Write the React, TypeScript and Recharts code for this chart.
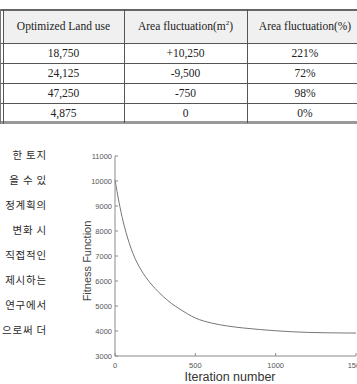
import React from 'react';
import { LineChart, Line, XAxis, YAxis } from 'recharts';

const iterations = [0, 25, 50, 75, 100, 125, 150, 200, 250, 300, 350, 400, 450, 500, 600, 700, 800, 900, 1000, 1100, 1200, 1300, 1400, 1500];
const fitness = [10050, 9150, 8400, 7800, 7300, 6900, 6580, 6080, 5700, 5380, 5110, 4890, 4690, 4520, 4320, 4200, 4120, 4060, 4010, 3970, 3945, 3930, 3922, 3918];
const xTicks = [0, 500, 1000, 1500];
const yTicks = [3000, 4000, 5000, 6000, 7000, 8000, 9000, 10000, 11000];

const tableHeader = ['Optimized Land use', 'Area fluctuation(m²)', 'Area fluctuation(%)'];
const colLand = ['18,750', '24,125', '47,250', '4,875'];
const colAreaM2 = ['+10,250', '-9,500', '-750', '0'];
const colAreaPct = ['221%', '72%', '98%', '0%'];

const koreanLines = ['한 토지', '을 수 있', '정계획의', '변화 시', '직접적인', '제시하는', '연구에서', '으로써 더'];

const data = iterations.map((it, i) => ({ it, f: fitness[i] }));

const AXIS = '#8a8a8a';
const TICKTXT = '#555';

const YTickLeft = (props: any) => {
  const { x, y, payload } = props;
  return (
    <g>
      <line x1={x + 3} y1={y} x2={x + 6} y2={y} stroke={AXIS} strokeWidth={1} />
      <text x={x} y={y} textAnchor="end" dominantBaseline="central" fontSize={7.5} fill={TICKTXT} fontFamily="Liberation Sans, Arial, sans-serif">
        {payload.value}
      </text>
    </g>
  );
};

const YTickRight = (props: any) => {
  const { x, y } = props;
  return <line x1={x} y1={y} x2={x - 3} y2={y} stroke={AXIS} strokeWidth={1} />;
};

const XTickBottom = (props: any) => {
  const { x, y, payload } = props;
  return (
    <g>
      <line x1={x} y1={y - 5} x2={x} y2={y - 8} stroke={AXIS} strokeWidth={1} />
      <text x={x} y={y + 4} textAnchor="middle" dominantBaseline="central" fontSize={7.5} fill={TICKTXT} fontFamily="Liberation Sans, Arial, sans-serif">
        {payload.value}
      </text>
    </g>
  );
};

const XTickTop = (props: any) => {
  const { x, y } = props;
  return <line x1={x} y1={y} x2={x} y2={y + 3} stroke={AXIS} strokeWidth={1} />;
};

const YLabel = (props: any) => {
  const vb = props.viewBox || { x: 0, y: 16, width: 115, height: 200 };
  const cx = vb.x + 87;
  const cy = vb.y + vb.height / 2 + 5;
  return (
    <text x={cx} y={cy} transform={`rotate(-90 ${cx} ${cy})`} textAnchor="middle" dominantBaseline="central" fontSize={11} fill="#444" fontFamily="Liberation Sans, Arial, sans-serif">
      Fitness Function
    </text>
  );
};

const XLabel = (props: any) => {
  const vb = props.viewBox || { x: 115, y: 216, width: 241, height: 28 };
  const cx = vb.x + 115;
  const cy = vb.y + 21;
  return (
    <text x={cx} y={cy} textAnchor="middle" dominantBaseline="central" fontSize={12.5} fill="#333" fontFamily="Liberation Sans, Arial, sans-serif">
      Iteration number
    </text>
  );
};

const serif = '"Liberation Serif", "Times New Roman", serif';

const rowTops = [43, 63, 83, 103];
const cols = [
  { left: 3, width: 121 },
  { left: 124, width: 123 },
  { left: 247, width: 116 },
];

export default function App() {
  return (
    <div style={{ position: 'absolute', left: 0, top: 0, width: 357, height: 384, overflow: 'hidden', background: '#fff' }}>
      {/* table */}
      <div style={{ position: 'absolute', left: 3, top: 10, width: 360, height: 33, background: '#f0f0f0' }} />
      <div style={{ position: 'absolute', left: 0, top: 9, width: 370, height: 1.5, background: '#666' }} />
      {rowTops.map((t) => (
        <div key={t} style={{ position: 'absolute', left: 0, top: t, width: 370, height: 1, background: '#555' }} />
      ))}
      <div style={{ position: 'absolute', left: 0, top: 121, width: 370, height: 3, background: '#999' }} />
      <div style={{ position: 'absolute', left: 0, top: 9, width: 1, height: 115, background: '#777' }} />
      <div style={{ position: 'absolute', left: 2.5, top: 9, width: 1, height: 115, background: '#555' }} />
      <div style={{ position: 'absolute', left: 124, top: 9, width: 1, height: 114, background: '#555' }} />
      <div style={{ position: 'absolute', left: 247, top: 9, width: 1, height: 114, background: '#555' }} />
      {tableHeader.map((h, i) => (
        <div key={h} style={{ position: 'absolute', left: cols[i].left, width: cols[i].width, top: 10, height: 33, lineHeight: '33px', textAlign: 'center', fontFamily: serif, fontSize: 11.5, color: '#222', whiteSpace: 'nowrap' }}>
          {i === 1 ? (
            <span>Area fluctuation(m<sup style={{ fontSize: 7, lineHeight: 0 }}>2</sup>)</span>
          ) : (
            h
          )}
        </div>
      ))}
      {[colLand, colAreaM2, colAreaPct].map((col, ci) =>
        col.map((v, ri) => (
          <div key={`${ci}-${ri}`} style={{ position: 'absolute', left: cols[ci].left, width: cols[ci].width, top: rowTops[ri], height: 20, lineHeight: '20px', textAlign: 'center', fontFamily: serif, fontSize: 11.5, color: '#222', whiteSpace: 'nowrap' }}>
            {v}
          </div>
        ))
      )}

      {/* korean text column */}
      {koreanLines.map((line, i) => (
        <div key={i} style={{ position: 'absolute', right: 357 - 47, top: 155 + i * 25 - 9, height: 18, lineHeight: '18px', whiteSpace: 'nowrap', fontFamily: '"Noto Sans CJK KR", sans-serif', fontSize: 10.5, letterSpacing: 0.8, color: '#2a2a2a', textAlign: 'right' }}>
          {line}
        </div>
      ))}

      {/* chart */}
      <div style={{ position: 'absolute', left: 0, top: 140 }}>
        <LineChart width={370} height={244} data={data} margin={{ top: 16, right: 14, bottom: 0, left: 0 }}>
          <XAxis
            dataKey="it"
            type="number"
            domain={[0, 1500]}
            ticks={xTicks}
            interval={0}
            xAxisId="b"
            orientation="bottom"
            height={28}
            stroke={AXIS}
            tickSize={0}
            tickMargin={5}
            tickLine={false}
            tick={<XTickBottom />}
            label={<XLabel />}
          />
          <XAxis
            dataKey="it"
            type="number"
            domain={[0, 1500]}
            ticks={xTicks}
            interval={0}
            xAxisId="t"
            orientation="top"
            height={0}
            stroke={AXIS}
            tickSize={0}
            tickLine={false}
            tick={<XTickTop />}
          />
          <YAxis
            yAxisId="l"
            type="number"
            domain={[3000, 11000]}
            ticks={yTicks}
            interval={0}
            width={115}
            stroke={AXIS}
            tickSize={0}
            tickMargin={3}
            tickLine={false}
            tick={<YTickLeft />}
            label={<YLabel />}
          />
          <YAxis
            yAxisId="r"
            orientation="right"
            type="number"
            domain={[3000, 11000]}
            ticks={yTicks}
            interval={0}
            width={0}
            stroke={AXIS}
            tickSize={0}
            tickLine={false}
            tick={<YTickRight />}
          />
          <Line
            xAxisId="b"
            yAxisId="l"
            type="monotone"
            dataKey="f"
            stroke="#777"
            strokeWidth={1}
            dot={false}
            isAnimationActive={false}
          />
        </LineChart>
      </div>
    </div>
  );
}
